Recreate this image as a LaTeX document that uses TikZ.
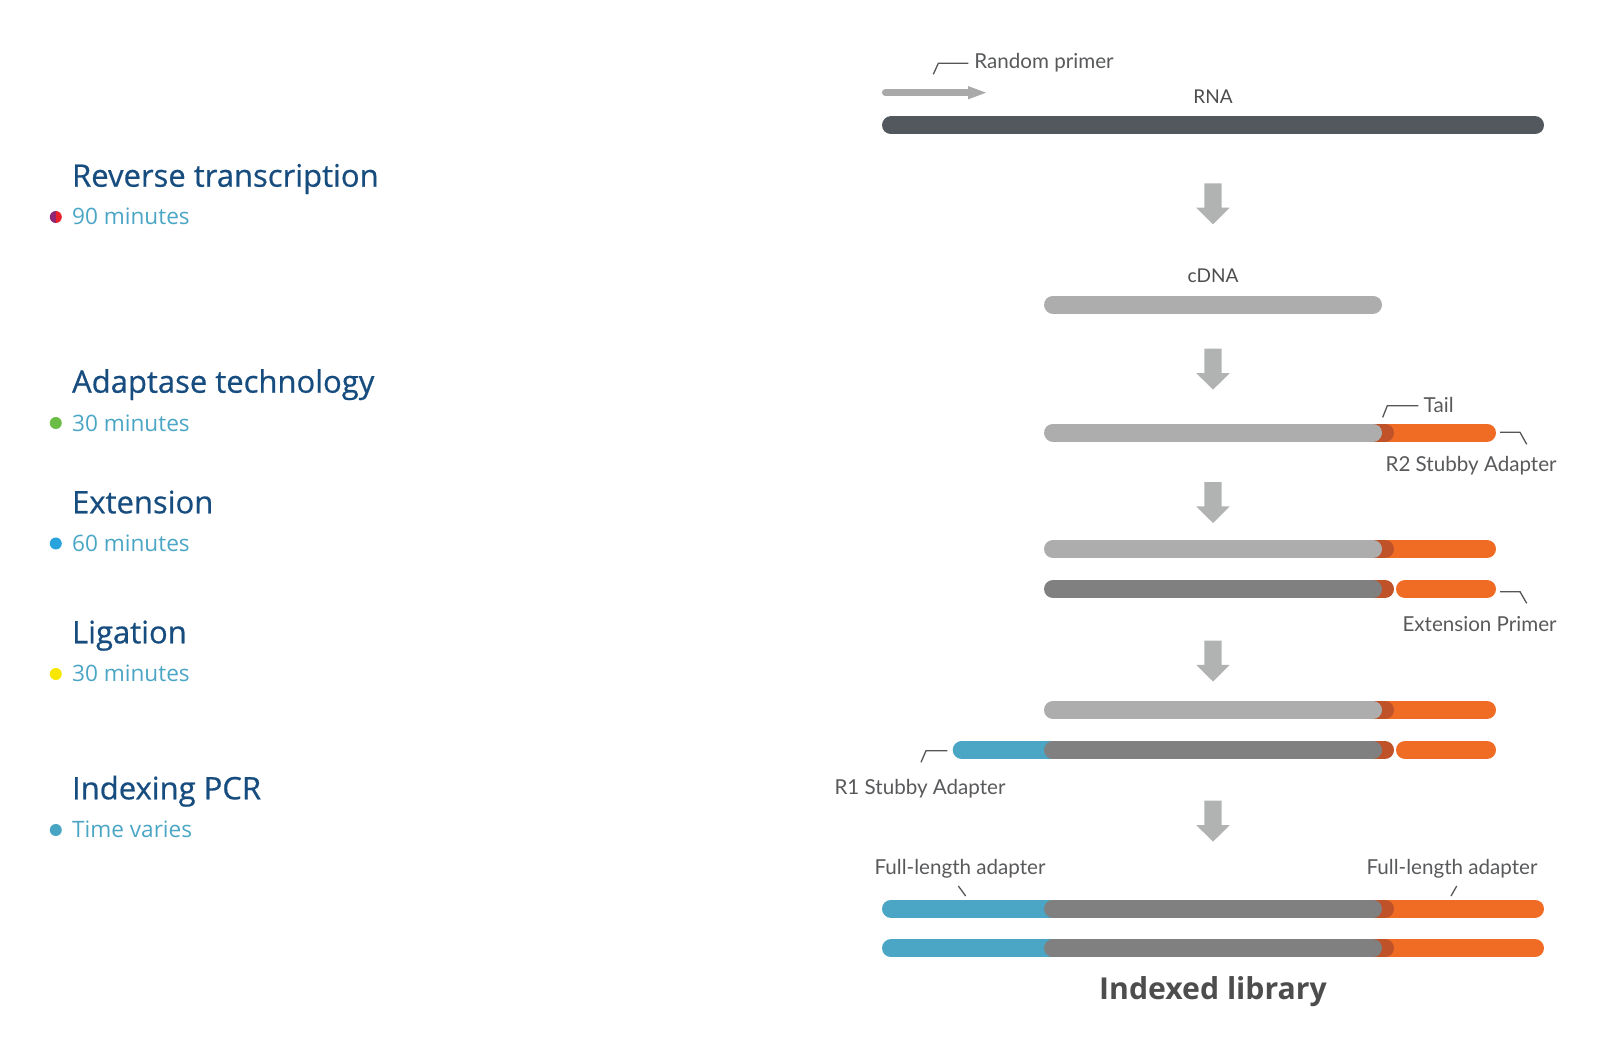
\documentclass[tikz,border=0pt]{standalone}
\usepackage{fontspec}
\setmainfont{Lato}
\newfontfamily\headfont{Open Sans}
\newfontfamily\headfontm[FakeBold=0.6]{Open Sans}
\definecolor{headblue}{HTML}{174C7F}
\definecolor{minblue}{HTML}{4BA6C6}
\definecolor{labelgrey}{HTML}{58595B}
\definecolor{leadgrey}{HTML}{555555}
\definecolor{rnagrey}{HTML}{53585E}
\definecolor{lightgrey}{HTML}{ADADAD}
\definecolor{darkgrey}{HTML}{808080}
\definecolor{darkorange}{HTML}{BF5228}
\definecolor{orangeb}{HTML}{F06C25}
\definecolor{blueb}{HTML}{4AA6C4}
\definecolor{arrowgrey}{HTML}{B1B2B2}
\definecolor{primergrey}{HTML}{A9A9A9}
\definecolor{dotpurple}{HTML}{8E2474}
\definecolor{dotred}{HTML}{E8202A}
\definecolor{dotgreen}{HTML}{6CBD45}
\definecolor{dotblue}{HTML}{29A3DD}
\definecolor{dotyellow}{HTML}{F7E600}
\definecolor{dotteal}{HTML}{47A5C3}
\definecolor{titlegrey}{HTML}{4D4D4D}
\begin{document}
\begin{tikzpicture}[x=0.5pt,y=-0.5pt,
  strand/.style={line width=9pt,line cap=round},
  lead/.style={draw=leadgrey,line width=0.65pt},
  lbl/.style={inner sep=0pt,text=labelgrey,font=\fontsize{10.3}{12}\selectfont},
  strandlbl/.style={inner sep=0pt,anchor=base,text=titlegrey,font=\fontsize{9.5}{11}\selectfont},
  head/.style={inner sep=0pt,anchor=base west,text=headblue,font=\headfontm\fontsize{15.5}{18}\selectfont},
  mins/.style={inner sep=0pt,anchor=base west,text=minblue,font=\headfont\fontsize{11.3}{13}\selectfont},
  downarr/.pic={\fill[arrowgrey] (-8.7,0) -- (8.7,0) -- (8.7,24.4) -- (16.7,24.4) -- (0,41) -- (-16.7,24.4) -- (-8.7,24.4) -- cycle;}]
\useasboundingbox (0,0) rectangle (1600,1043);

% ---------- left column ----------
\node[head] (h1) at (71.7,186.7) {Reverse transcription};
\node[mins] (m1) at (71.7,225) {90 minutes};
\fill[dotpurple] (55.8,211) arc[start angle=90,end angle=270,radius=3pt] -- cycle;
\fill[dotred] (55.8,211) arc[start angle=90,end angle=-90,radius=3pt] -- cycle;

\node[head] (h2) at (71.7,392.7) {Adaptase technology};
\node[mins] (m2) at (71.7,431.1) {30 minutes};
\fill[dotgreen] (55.8,423) circle[radius=3pt];

\node[head] (h3) at (71.7,513.3) {Extension};
\node[mins] (m3) at (71.7,551.7) {60 minutes};
\fill[dotblue] (55.8,543.5) circle[radius=3pt];

\node[head] (h4) at (71.7,643.3) {Ligation};
\node[mins] (m4) at (71.7,681.7) {30 minutes};
\fill[dotyellow] (55.8,674) circle[radius=3pt];

\node[head] (h5) at (71.7,799.3) {Indexing PCR};
\node[mins] (m5) at (71.7,837.7) {Time varies};
\fill[dotteal] (55.8,830) circle[radius=3pt];

% ---------- RNA ----------
\node[lbl,anchor=base west] (rp) at (974,68.3) {Random primer};
\coordinate (rpA) at (933.3,74.3);
\coordinate (rpB) at (968.3,63.3);
\draw[lead] (rpA) -- (938.3,63.3) -- (rpB);
\draw[primergrey,line width=3.35pt,line cap=round] (885.3,92.7) -- (970,92.7);
\fill[primergrey] (968,86) -- (986,92.7) -- (968,99.4) -- cycle;
\node[strandlbl] (rna) at (1213,103.3) {RNA};
\draw[strand,rnagrey] (891,125.5) -- (1535,125.5);

\pic at (1213,183.3) {downarr};

% ---------- cDNA ----------
\node[strandlbl] (cdna) at (1213,282.3) {cDNA};
\draw[strand,lightgrey] (1053,304.5) -- (1373,304.5);

\pic at (1213,348.7) {downarr};

% ---------- tail + R2 adapter ----------
\draw[strand,orangeb] (1380,432.5) -- (1487,432.5);
\draw[strand,darkorange] (1370,432.5) -- (1385,432.5);
\draw[strand,lightgrey] (1053,432.5) -- (1373,432.5);
\node[lbl,anchor=base west] (tail) at (1423.3,412.3) {Tail};
\coordinate (tA) at (1382.7,417.3);
\coordinate (tB) at (1418.3,405.7);
\draw[lead] (tA) -- (1387.3,405.7) -- (tB);
\node[lbl,anchor=base east] (r2) at (1557,471.7) {R2 Stubby Adapter};
\coordinate (r2A) at (1500,432.3);
\coordinate (r2B) at (1526.7,444.3);
\draw[lead] (r2A) -- (1520,432.3) -- (r2B);

\pic at (1213,482) {downarr};

% ---------- extension ----------
\draw[strand,orangeb] (1380,549) -- (1487,549);
\draw[strand,darkorange] (1370,549) -- (1385,549);
\draw[strand,lightgrey] (1053,549) -- (1373,549);
\draw[strand,darkorange] (1360,589) -- (1385,589);
\draw[strand,darkgrey] (1053,589) -- (1373,589);
\draw[strand,orangeb] (1405,589) -- (1487,589);
\node[lbl,anchor=base east] (ep) at (1557,631) {Extension Primer};
\coordinate (epA) at (1500,591.7);
\coordinate (epB) at (1526.7,603.3);
\draw[lead] (epA) -- (1520,591.7) -- (epB);

\pic at (1213,640.5) {downarr};

% ---------- ligation ----------
\draw[strand,orangeb] (1380,710) -- (1487,710);
\draw[strand,darkorange] (1370,710) -- (1385,710);
\draw[strand,lightgrey] (1053,710) -- (1373,710);
\draw[strand,blueb] (961.7,750) -- (1060,750);
\draw[strand,darkorange] (1360,750) -- (1385,750);
\draw[strand,darkgrey] (1053,750) -- (1373,750);
\draw[strand,orangeb] (1405,750) -- (1487,750);
\node[lbl,anchor=base] (r1) at (920,794.3) {R1 Stubby Adapter};
\coordinate (r1A) at (921,762.3);
\coordinate (r1B) at (947.3,750.7);
\draw[lead] (r1A) -- (926,750.7) -- (r1B);

\pic at (1213,800.7) {downarr};

% ---------- indexed library ----------
\node[lbl,anchor=base] (fl1) at (960,874.3) {Full-length adapter};
\node[lbl,anchor=base] (fl2) at (1452,874.3) {Full-length adapter};
\coordinate (fl1A) at (958.3,886);
\coordinate (fl1B) at (965.7,896);
\draw[lead] (fl1A) -- (fl1B);
\coordinate (fl2A) at (1456.7,886);
\coordinate (fl2B) at (1451,896);
\draw[lead] (fl2A) -- (fl2B);
\foreach \yy in {908.5,948.3}{
  \draw[strand,blueb] (891,\yy) -- (1060,\yy);
  \draw[strand,orangeb] (1380,\yy) -- (1535,\yy);
  \draw[strand,darkorange] (1370,\yy) -- (1385,\yy);
  \draw[strand,darkgrey] (1053,\yy) -- (1373,\yy);
}
\node[inner sep=0pt,anchor=base,text=titlegrey,font=\headfont\bfseries\fontsize{15.1}{18}\selectfont] (lib) at (1213,999) {Indexed library};
\end{tikzpicture}
\end{document}
